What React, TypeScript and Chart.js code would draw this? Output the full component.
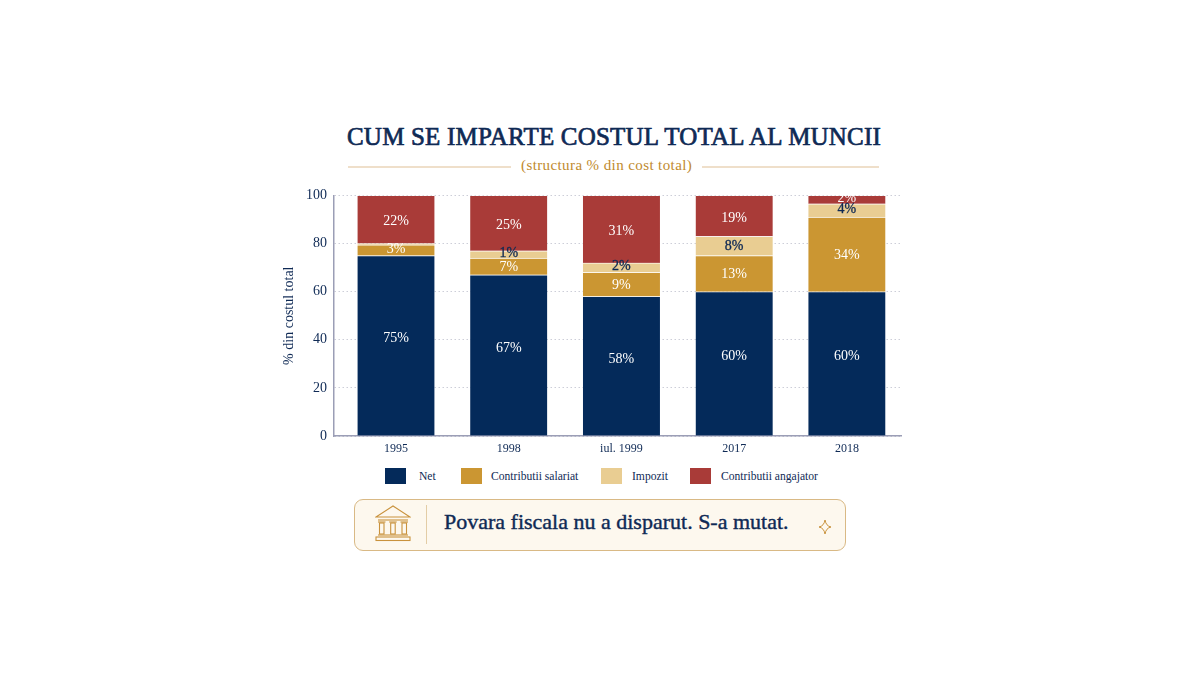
import { useRef, useEffect } from 'react'
import { Chart, registerables } from 'chart.js'

Chart.register(...registerables)

const FONT = '"Liberation Serif", serif'
const INK = '#0f2a55'

const categories = ['1995', '1998', 'iul. 1999', '2017', '2018']
// segment heights as drawn in the picture (the printed labels do not always agree with them)
const net = [75, 67, 58, 60, 60]
const salariat = [4.5, 7, 10, 15, 31]
const impozit = [0.5, 3, 4, 8, 5.5]
const angajator = [20, 23, 28, 17, 3.5]
// printed labels
const netLabels = ['75%', '67%', '58%', '60%', '60%']
const salariatLabels = ['3%', '7%', '9%', '13%', '34%']
const impozitLabels = ['', '1%', '2%', '8%', '4%']
const angajatorLabels = ['22%', '25%', '31%', '19%', '2%']
const yTicks = [0, 20, 40, 60, 80, 100]

const legendItems = [
  { label: 'Net', color: '#042a5a', box: 385, text: 419 },
  { label: 'Contributii salariat', color: '#cb9632', box: 461, text: 491 },
  { label: 'Impozit', color: '#e9cd92', box: 601, text: 632 },
  { label: 'Contributii angajator', color: '#a93b38', box: 690, text: 721 },
]

const series = [
  { label: 'Net', data: net, labels: netLabels, color: '#042a5a', text: '#ffffff', shift: -7, heavy: false },
  { label: 'Contributii salariat', data: salariat, labels: salariatLabels, color: '#cb9632', text: '#ffffff', shift: 1, heavy: false },
  { label: 'Impozit', data: impozit, labels: impozitLabels, color: '#e9cd92', text: INK, shift: 0, heavy: true },
  { label: 'Contributii angajator', data: angajator, labels: angajatorLabels, color: '#a93b38', text: '#ffffff', shift: 2, heavy: false },
]

const segmentLabels = {
  id: 'segmentLabels',
  afterDatasetsDraw(chart: any) {
    const { ctx } = chart
    ctx.save()
    ctx.textAlign = 'center'
    ctx.textBaseline = 'middle'
    ctx.font = `14px ${FONT}`
    series.forEach((s, i) => {
      ctx.fillStyle = s.text
      ctx.strokeStyle = s.text
      ctx.lineWidth = 0.3
      chart.getDatasetMeta(i).data.forEach((bar: any, j: number) => {
        const c = bar.getCenterPoint()
        // thin segments keep their label centred
        const y = bar.height > 15 ? c.y + s.shift : c.y - 1
        ctx.fillText(s.labels[j], c.x, y)
        if (s.heavy) ctx.strokeText(s.labels[j], c.x, y)
      })
    })
    ctx.restore()
  },
}

function Temple() {
  return (
    <svg width="36" height="38" viewBox="0 0 36 38" style={{ position: 'absolute', left: 375, top: 505 }} fill="none" stroke="#c9923c" strokeWidth="1.1">
      <path d="M1 12 L18 1 L35 12 Z" />
      <line x1="3" y1="15" x2="33" y2="15" />
      <rect x="4.5" y="18" width="4.5" height="11" />
      <rect x="15.7" y="18" width="4.5" height="11" />
      <rect x="27" y="18" width="4.5" height="11" />
      <line x1="3" y1="17" x2="10.5" y2="17" />
      <line x1="14.2" y1="17" x2="21.7" y2="17" />
      <line x1="25.5" y1="17" x2="33" y2="17" />
      <line x1="3" y1="30" x2="33" y2="30" />
      <rect x="1" y="32" width="34" height="3.5" />
    </svg>
  )
}

function Sparkle() {
  return (
    <svg width="14" height="16" viewBox="0 0 14 16" style={{ position: 'absolute', left: 818, top: 519 }} fill="none" stroke="#c9923c" strokeWidth="1">
      <path d="M7 1 Q8 7 13 8 Q8 9 7 15 Q6 9 1 8 Q6 7 7 1 Z" />
    </svg>
  )
}

const abs = (style: any) => ({ position: 'absolute', whiteSpace: 'nowrap', fontFamily: FONT, ...style })

export default function App() {
  const canvasRef = useRef<HTMLCanvasElement>(null)

  useEffect(() => {
    document.body.style.margin = '0'
    document.body.style.background = '#ffffff'
    if (!canvasRef.current) return
    const chart = new Chart(canvasRef.current, {
      type: 'bar',
      data: {
        datasets: series.map(s => ({
          label: s.label,
          data: s.data.map((v, i) => ({ x: i, y: v })),
          backgroundColor: s.color,
          borderColor: 'rgba(255,255,255,0.55)',
          borderWidth: { top: 1 },
          borderSkipped: false,
          barThickness: 77,
        })),
      },
      options: {
        responsive: false,
        animation: false,
        layout: { padding: { top: 13, right: 13, left: 0, bottom: 0 } },
        plugins: { legend: { display: false }, title: { display: false }, tooltip: { enabled: false } },
        scales: {
          x: {
            type: 'linear',
            stacked: true,
            offset: false,
            min: -0.55,
            max: 4.48,
            grid: { display: false, drawTicks: false, offset: false },
            border: { color: '#9b9eb6', width: 1.5 },
            afterBuildTicks: (scale: any) => { scale.ticks = categories.map((_, i) => ({ value: i })) },
            afterFit: (scale: any) => { scale.height = 24 },
            ticks: {
              color: INK,
              font: { family: FONT, size: 12 },
              padding: 6,
              autoSkip: false,
              maxRotation: 0,
              callback: (v: any) => categories[v],
            },
          },
          y: {
            stacked: true,
            min: 0,
            max: 100,
            afterBuildTicks: (scale: any) => { scale.ticks = yTicks.map(value => ({ value })) },
            afterFit: (scale: any) => { scale.width = 53 },
            grid: { color: '#cdced8', drawTicks: false },
            border: { color: '#9b9eb6', width: 1.5, dash: [1.5, 2.5] },
            title: { display: true, text: '% din costul total', color: INK, font: { family: FONT, size: 14 }, padding: 0 },
            ticks: { color: INK, font: { family: FONT, size: 14 }, padding: 7 },
          },
        },
      },
      plugins: [segmentLabels],
    } as any)
    return () => { chart.destroy() }
  }, [])

  return (
    <div style={{ position: 'relative', width: 1200, height: 675, overflow: 'hidden', background: '#ffffff' }}>
      <div style={abs({ left: 347, top: 123, fontSize: 25, color: INK, letterSpacing: 0.2, WebkitTextStroke: '0.7px #0f2a55' })}>
        CUM SE IMPARTE COSTUL TOTAL AL MUNCII
      </div>
      <div style={abs({ left: 348, top: 166, width: 163, height: 1.5, background: '#efdfca' })} />
      <div style={abs({ left: 702, top: 166, width: 177, height: 1.5, background: '#efdfca' })} />
      <div style={abs({ left: 521, top: 157, fontSize: 15, color: '#c08a2e', letterSpacing: 0.4 })}>(structura % din cost total)</div>

      <canvas ref={canvasRef} width={633} height={280} style={{ position: 'absolute', left: 281, top: 180 }} />

      {legendItems.map(item => (
        <div key={item.label}>
          <div style={abs({ left: item.box, top: 468, width: 21, height: 16, background: item.color })} />
          <div style={abs({ left: item.text, top: 470, fontSize: 11.6, color: INK })}>{item.label}</div>
        </div>
      ))}

      <div style={abs({ left: 354, top: 499, width: 490, height: 50, border: '1px solid #d9b985', borderRadius: 9, background: '#fdf8ee' })} />
      <Temple />
      <div style={abs({ left: 426, top: 505, width: 1, height: 39, background: '#e3cda6' })} />
      <div style={abs({ left: 444, top: 509, fontSize: 22, color: INK, WebkitTextStroke: '0.4px #0f2a55' })}>Povara fiscala nu a disparut. S-a mutat.</div>
      <Sparkle />
    </div>
  )
}
